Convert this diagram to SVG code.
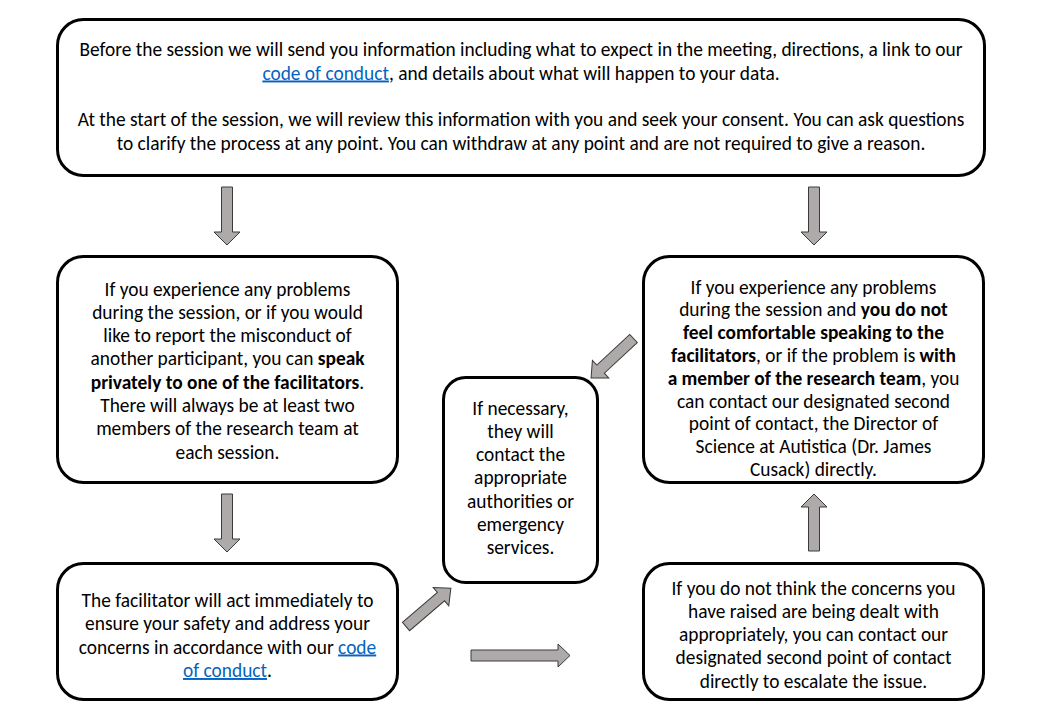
<svg xmlns="http://www.w3.org/2000/svg" width="1040" height="720" viewBox="0 0 1040 720">
<style>
.box{fill:#fff;stroke:#000;stroke-width:3}
.t{font-family:Carlito,Calibri,Lato,"Liberation Sans",sans-serif;font-size:19.4px;fill:#000;text-anchor:middle}
.b{font-weight:bold}
.lk{fill:#0563C1;text-decoration:underline}
.ar{fill:#AEAAAA;stroke:#3a3a3a;stroke-width:1}
</style>
<rect width="1040" height="720" fill="#fff"/>
<g id="connectors">
<polygon class="ar" points="221.5,187 232.5,187 232.5,232 240,232 227,245 214,232 221.5,232"/>
<polygon class="ar" points="808.5,187 819.5,187 819.5,232 827,232 814,245 801,232 808.5,232"/>
<polygon class="ar" points="221.5,494 232.5,494 232.5,539 240,539 227,552 214,539 221.5,539"/>
<polygon class="ar" points="808.5,551 819.5,551 819.5,507 827,507 814,494 801,507 808.5,507"/>
<polygon class="ar" points="471,650 558,650 558,644 570,655.5 558,667 558,661 471,661"/>
<polygon class="ar" transform="translate(406,626.5) rotate(-40.5)" points="0,-5.5 46,-5.5 46,-12 59,0 46,12 46,5.5 0,5.5"/>
<polygon class="ar" transform="translate(633.5,338.5) rotate(137)" points="0,-5.5 45,-5.5 45,-12 58,0 45,12 45,5.5 0,5.5"/>
</g>
<g id="node-top">
<rect class="box" x="57.5" y="19.5" width="927" height="156" rx="26"/>
<text class="t" x="521" y="55.5">Before the session we will send you information including what to expect in the meeting, directions, a link to our</text>
<text class="t" x="521" y="79.5"><tspan class="lk">code of conduct</tspan>, and details about what will happen to your data.</text>
<text class="t" x="521" y="125.5">At the start of the session, we will review this information with you and seek your consent. You can ask questions</text>
<text class="t" x="521" y="149.5">to clarify the process at any point. You can withdraw at any point and are not required to give a reason.</text>
</g>
<g id="node-facilitators">
<rect class="box" x="57.5" y="256.5" width="340" height="226" rx="26"/>
<text class="t" x="227.5" y="295.5">If you experience any problems</text>
<text class="t" x="227.5" y="318.8">during the session, or if you would</text>
<text class="t" x="227.5" y="342.1">like to report the misconduct of</text>
<text class="t" x="227.5" y="365.4">another participant, you can <tspan class="b">speak</tspan></text>
<text class="t" x="227.5" y="388.7"><tspan class="b">privately to one of the facilitators</tspan>.</text>
<text class="t" x="227.5" y="412">There will always be at least two</text>
<text class="t" x="227.5" y="435.3">members of the research team at</text>
<text class="t" x="227.5" y="458.6">each session.</text>
</g>
<g id="node-second-contact">
<rect class="box" x="643.5" y="256.5" width="340" height="226" rx="26"/>
<text class="t" x="813.5" y="293.5">If you experience any problems</text>
<text class="t" x="813.5" y="316.3">during the session and <tspan class="b">you do not</tspan></text>
<text class="t" x="813.5" y="339.1"><tspan class="b">feel comfortable speaking to the</tspan></text>
<text class="t" x="813.5" y="361.9"><tspan class="b">facilitators</tspan>, or if the problem is <tspan class="b">with</tspan></text>
<text class="t" x="813.5" y="384.7"><tspan class="b">a member of the research team</tspan>, you</text>
<text class="t" x="813.5" y="407.5">can contact our designated second</text>
<text class="t" x="813.5" y="430.3">point of contact, the Director of</text>
<text class="t" x="813.5" y="453.1">Science at Autistica (Dr. James</text>
<text class="t" x="813.5" y="475.9">Cusack) directly.</text>
</g>
<g id="node-authorities">
<rect class="box" x="443.5" y="377.5" width="154" height="205" rx="22"/>
<text class="t" x="520.5" y="414.5">If necessary,</text>
<text class="t" x="520.5" y="437.8">they will</text>
<text class="t" x="520.5" y="461.1">contact the</text>
<text class="t" x="520.5" y="484.4">appropriate</text>
<text class="t" x="520.5" y="507.7">authorities or</text>
<text class="t" x="520.5" y="531">emergency</text>
<text class="t" x="520.5" y="554.3">services.</text>
</g>
<g id="node-act">
<rect class="box" x="57.5" y="563.5" width="340" height="136" rx="26"/>
<text class="t" x="227.5" y="606.5">The facilitator will act immediately to</text>
<text class="t" x="227.5" y="630">ensure your safety and address your</text>
<text class="t" x="227.5" y="653.5">concerns in accordance with our <tspan class="lk">code</tspan></text>
<text class="t" x="227.5" y="677"><tspan class="lk">of conduct</tspan>.</text>
</g>
<g id="node-escalate">
<rect class="box" x="643.5" y="563.5" width="340" height="136" rx="26"/>
<text class="t" x="813.5" y="594.5">If you do not think the concerns you</text>
<text class="t" x="813.5" y="617.8">have raised are being dealt with</text>
<text class="t" x="813.5" y="641.1">appropriately, you can contact our</text>
<text class="t" x="813.5" y="664.4">designated second point of contact</text>
<text class="t" x="813.5" y="687.7">directly to escalate the issue.</text>
</g>
</svg>
